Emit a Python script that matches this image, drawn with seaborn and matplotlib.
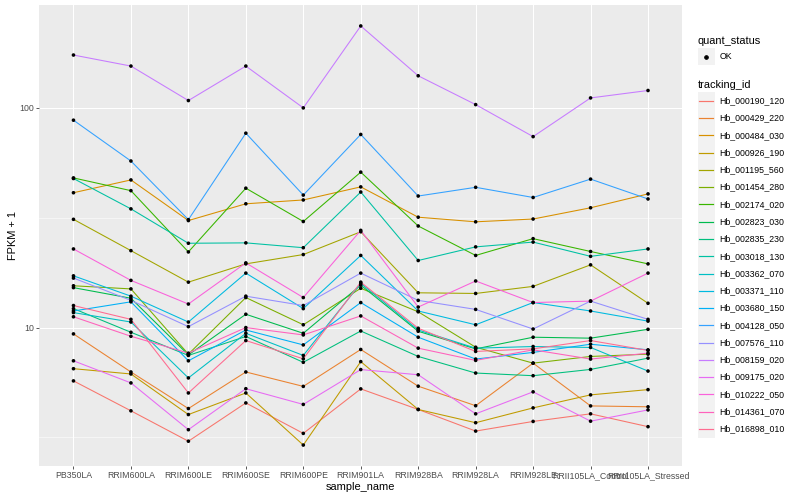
import numpy as np
import pandas as pd
import seaborn as sns
import matplotlib.pyplot as plt
from matplotlib.patches import Rectangle
from matplotlib.lines import Line2D
from matplotlib.ticker import FixedLocator, NullFormatter

samples = ["PB350LA", "RRIM600LA", "RRIM600LE", "RRIM600SE", "RRIM600PE",
           "RRIM901LA", "RRIM928BA", "RRIM928LA", "RRIM928LE",
           "RRII105LA_Control", "RRII105LA_Stressed"]

genes = ["Hb_000190_120", "Hb_000429_220", "Hb_000484_030", "Hb_000926_190",
         "Hb_001195_560", "Hb_001454_280", "Hb_002174_020", "Hb_002823_030",
         "Hb_002835_230", "Hb_003018_130", "Hb_003362_070", "Hb_003371_110",
         "Hb_003680_150", "Hb_004128_050", "Hb_007576_110", "Hb_008159_020",
         "Hb_009175_020", "Hb_010222_050", "Hb_014361_070", "Hb_016898_010"]

# FPKM + 1, one list per gene, in sample order
hb_000190_120 = [5.72, 4.18, 3.04, 4.54, 3.30, 5.26, 4.24, 3.38, 3.74, 4.05, 3.54]
hb_000429_220 = [9.36, 6.28, 4.28, 6.28, 5.40, 7.95, 5.41, 4.41, 6.89, 4.40, 4.36]
hb_000484_030 = [41.1, 47.0, 30.7, 36.6, 38.1, 43.7, 31.8, 30.3, 31.2, 35.1, 40.6]
hb_000926_190 = [6.50, 6.15, 4.02, 5.04, 2.92, 7.00, 4.24, 3.69, 4.31, 4.94, 5.22]
hb_001195_560 = [31.1, 22.4, 16.1, 19.5, 21.5, 27.3, 14.4, 14.3, 15.4, 19.3, 12.9]
hb_001454_280 = [15.5, 15.0, 7.57, 13.7, 10.3, 15.1, 11.8, 8.14, 6.89, 7.39, 7.57]
hb_002174_020 = [48.0, 42.0, 22.1, 43.1, 30.4, 51.0, 29.0, 21.3, 25.4, 22.2, 19.5]
hb_002823_030 = [15.2, 13.6, 7.51, 11.5, 9.42, 15.6, 9.62, 8.00, 9.04, 8.95, 9.82]
hb_002835_230 = [12.2, 9.52, 7.47, 9.11, 6.95, 9.65, 7.39, 6.21, 6.04, 6.45, 7.26]
hb_003018_130 = [47.7, 34.7, 24.2, 24.3, 23.1, 41.4, 20.2, 23.3, 24.5, 21.1, 22.8]
hb_003362_070 = [11.7, 10.6, 5.90, 9.42, 7.47, 15.9, 9.75, 8.06, 8.20, 8.12, 6.34]
hb_003371_110 = [17.2, 13.9, 10.6, 17.7, 12.2, 21.3, 11.9, 10.3, 13.0, 11.9, 10.7]
hb_003680_150 = [11.9, 13.1, 7.06, 9.75, 8.34, 13.0, 9.04, 7.19, 7.71, 8.40, 7.92]
hb_004128_050 = [87.9, 57.3, 31.0, 76.7, 40.1, 75.7, 39.7, 43.5, 39.1, 47.4, 38.5]
hb_007576_110 = [16.8, 13.3, 10.1, 13.9, 12.6, 17.7, 13.3, 12.1, 9.85, 13.2, 10.9]
hb_008159_020 = [174, 155, 108, 155, 100, 236, 140, 103.5, 74, 111, 120]
hb_009175_020 = [7.06, 5.60, 3.43, 5.27, 4.47, 6.44, 6.10, 4.05, 5.10, 3.75, 4.22]
hb_010222_050 = [22.8, 16.4, 12.8, 19.7, 13.7, 27.7, 12.4, 16.3, 13.0, 13.2, 17.7]
hb_014361_070 = [11.2, 9.13, 7.65, 10.0, 9.26, 11.3, 8.06, 7.09, 7.92, 7.19, 7.65]
hb_016898_010 = [12.6, 10.9, 5.04, 8.73, 7.21, 16.1, 9.93, 7.79, 8.00, 8.73, 7.87]

series = [hb_000190_120, hb_000429_220, hb_000484_030, hb_000926_190,
          hb_001195_560, hb_001454_280, hb_002174_020, hb_002823_030,
          hb_002835_230, hb_003018_130, hb_003362_070, hb_003371_110,
          hb_003680_150, hb_004128_050, hb_007576_110, hb_008159_020,
          hb_009175_020, hb_010222_050, hb_014361_070, hb_016898_010]

# ggplot2 default hue palette for 20 levels
colors = ["#F8766D", "#EA8331", "#D89000", "#C09B00", "#A3A500", "#7CAE00",
          "#39B600", "#00BB4E", "#00BF7D", "#00C1A3", "#00BFC4", "#00BAE0",
          "#00B0F6", "#35A2FF", "#9590FF", "#C77CFF", "#E76BF3", "#FA62DB",
          "#FF62BC", "#FF6C91"]

rows = []
for g, vals in zip(genes, series):
    for s, v in zip(samples, vals):
        rows.append((g, s, v, "OK"))
df = pd.DataFrame(rows, columns=["tracking_id", "sample_name", "fpkm1", "quant_status"])

plt.rcParams["font.family"] = ["Liberation Sans", "DejaVu Sans"]

W, H, DPI = 800, 500, 72
fig = plt.figure(figsize=(W / DPI, H / DPI), dpi=DPI)
ax = fig.add_axes([39 / W, 1 - 466 / H, (682.5 - 39) / W, (466 - 5) / H])
ax.set_facecolor("#EBEBEB")
for sp in ax.spines.values():
    sp.set_visible(False)

sns.lineplot(data=df, x="sample_name", y="fpkm1", hue="tracking_id",
             palette=colors, hue_order=genes, estimator=None, sort=False,
             linewidth=1.07, legend=False, ax=ax, zorder=2)
sns.scatterplot(data=df, x="sample_name", y="fpkm1", color="black", s=13,
                edgecolor="none", legend=False, ax=ax, zorder=3)

ax.set_yscale("log")
lo, hi = np.log10(df["fpkm1"].min()), np.log10(df["fpkm1"].max())
pad = 0.05 * (hi - lo)
ax.set_ylim(10 ** (lo - pad), 10 ** (hi + pad))
ax.set_xlim(-0.6, len(samples) - 0.4)

ax.yaxis.set_major_locator(FixedLocator([10, 100]))
ax.set_yticklabels(["10", "100"])
ax.yaxis.set_minor_locator(FixedLocator([10 ** 0.5, 10 ** 1.5]))
ax.yaxis.set_minor_formatter(NullFormatter())

ax.set_axisbelow(True)
ax.grid(which="major", color="white", linewidth=1.07)
ax.grid(which="minor", axis="y", color="white", linewidth=0.53)
ax.tick_params(which="major", length=2.75, width=0.8, color="#333333",
               labelsize=8.8, labelcolor="#4D4D4D", pad=2)
ax.tick_params(which="minor", length=0)

ax.set_xlabel("sample_name", fontsize=11, color="black", labelpad=2)
ax.set_ylabel("FPKM + 1", fontsize=11, color="black", labelpad=1.5)

# legends drawn ggplot-style on the right
def fx(px):
    return px / W

def fy(py):
    return 1 - py / H

key = 17.28
kx = 697.5
fig.text(fx(kx), fy(40.5), "quant_status", fontsize=11, va="center", ha="left")
fig.add_artist(Rectangle((fx(kx), fy(56.7 + key / 2)), key / W, key / H,
                         transform=fig.transFigure, facecolor="#F2F2F2",
                         edgecolor="none", zorder=1))
fig.add_artist(Line2D([fx(kx + key / 2)], [fy(56.7)], transform=fig.transFigure,
                      marker="o", markersize=3.6, color="black",
                      linestyle="none", zorder=3))
fig.text(fx(kx + key + 4.5), fy(56.7), "OK", fontsize=8.8, va="center", ha="left")

fig.text(fx(kx), fy(84.5), "tracking_id", fontsize=11, va="center", ha="left")
for i, (g, c) in enumerate(zip(genes, colors)):
    yc = 100.7 + i * key
    fig.add_artist(Rectangle((fx(kx), fy(yc + key / 2)), key / W, key / H,
                             transform=fig.transFigure, facecolor="#F2F2F2",
                             edgecolor="none", zorder=1))
    fig.add_artist(Line2D([fx(kx + 1.7), fx(kx + key - 1.7)], [fy(yc), fy(yc)],
                          transform=fig.transFigure, color=c,
                          linewidth=1.2, zorder=3))
    fig.text(fx(kx + key + 4.5), fy(yc), g, fontsize=8.8, va="center", ha="left")

fig.savefig("out.png", dpi=DPI, facecolor="white")
